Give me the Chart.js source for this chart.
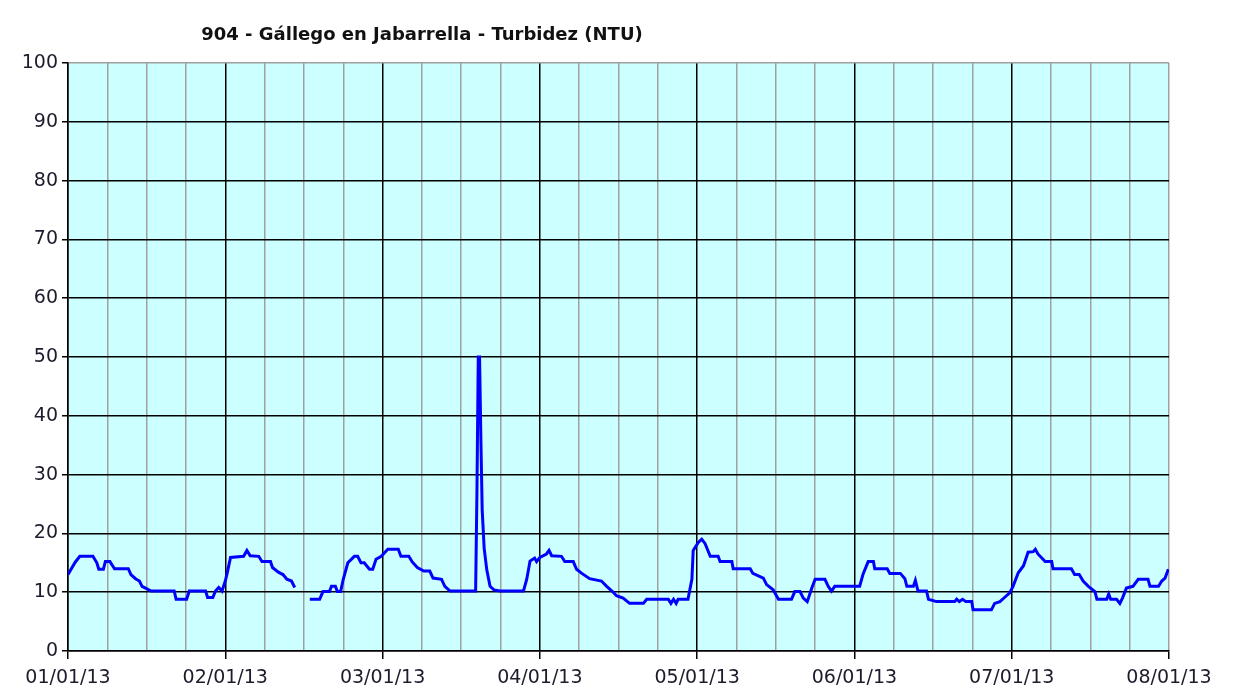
<!DOCTYPE html>
<html>
<head>
<meta charset="utf-8">
<script src="https://cdn.jsdelivr.net/npm/chart.js@4.4.0/dist/chart.umd.min.js"></script>
<style>
  html, body { margin: 0; padding: 0; background: #ffffff; }
  #wrap { width: 1246px; height: 691px; position: relative; }
</style>
</head>
<body>
<div id="wrap"><canvas id="chartTurbidez"></canvas></div>
<script>
const titulo = "904 - Gállego en Jabarrella - Turbidez (NTU)";
const fechas = ["01/01/13", "02/01/13", "03/01/13", "04/01/13", "05/01/13", "06/01/13", "07/01/13", "08/01/13"];

// horas desde 01/01/13 00:00
const horas = [
  0, 1.1, 1.8, 3.8, 4.4, 4.7, 5.4, 5.7, 6.4, 6.8, 7.1, 9.2, 9.6, 10.3, 10.9, 11.3, 12.7,
  16.2, 16.5, 18.1, 18.5, 21, 21.3, 22.1, 22.5, 23, 23.5, 24, 24.3, 24.8, 26.8, 27.3, 27.8,
  29.1, 29.6, 30.9, 31.2, 32.1, 32.8, 33.4, 34.1, 34.6, 35.7,
  36.9, 38.4, 38.9, 39.9, 40.2, 40.8, 41.1, 41.6, 42, 42.7, 43.7, 44.2, 44.7, 45.2, 46, 46.5,
  47, 47.8, 48.8, 50.4, 50.8, 52, 52.5, 53.3, 54.3, 55.2, 55.7, 57, 57.5, 58.3, 62.2,
  62.4, 62.6, 62.8, 63, 63.2, 63.5, 63.9, 64.4, 65, 65.9, 69.5, 70, 70.5, 71.2, 71.5, 72,
  73, 73.4, 73.8, 75.3, 75.8, 77.1, 77.6, 78.4, 79.6, 81.4, 82.2, 83, 83.7, 84.7, 85.7,
  87.8, 88.3, 91.6, 92, 92.4, 92.8, 93.1, 94.6, 95.2, 95.4, 96.2, 96.7, 97.2, 98, 99.2,
  99.5, 101.3, 101.5, 104.1, 104.5, 106.1, 106.6, 107.6, 108.4, 110.4, 110.9, 111.7,
  112.2, 112.8, 113.5, 114, 115.5, 116, 116.5, 117, 120.8, 121.3, 122.1, 122.9, 123.1,
  125, 125.4, 127, 127.7, 128, 129, 129.3, 129.7, 131, 131.3, 132.5, 135.3, 135.6, 136,
  136.5, 137, 137.9, 138.1, 140.9, 141.4, 142.2, 142.9, 143.7, 144.2, 145, 145.8, 146.5,
  147.3, 147.6, 148, 149.1, 150.1, 150.3, 153.1, 153.6, 154.3, 154.9, 155.7, 156.7, 157,
  158.5, 158.8, 159.1, 160, 160.5, 160.9, 161.5, 162.5, 163.3, 164.8, 165.1, 166.4, 166.9,
  167.4, 167.9
];

const turbidez = [
  13, 15.1, 16.1, 16.1, 15, 13.9, 13.9, 15.2, 15.2, 14.5, 14, 14, 13, 12.3, 11.9, 11, 10.2,
  10.2, 8.8, 8.8, 10.2, 10.2, 9.1, 9.1, 10.2, 10.8, 10.2, 11.9, 13.3, 15.9, 16.1, 17.1, 16.2,
  16.1, 15.2, 15.2, 14.2, 13.4, 13, 12.2, 11.9, 10.8, null,
  8.8, 8.8, 10.1, 10.1, 11, 11, 10.1, 10.1, 12.2, 15, 16.1, 16.1, 15, 15, 13.9, 13.9,
  15.6, 16.1, 17.3, 17.3, 16.1, 16.1, 15.2, 14.2, 13.6, 13.6, 12.4, 12.2, 11, 10.2, 10.2,
  27, 50, 50, 36, 24, 17.5, 13.8, 11, 10.4, 10.2, 10.2, 12.2, 15.3, 15.8, 15.2, 15.9,
  16.5, 17.1, 16.2, 16.1, 15.2, 15.2, 13.9, 13.2, 12.3, 11.9, 11, 10.2, 9.4, 9, 8.1,
  8.1, 8.8, 8.8, 8.1, 8.8, 8.1, 8.8, 8.8, 12.2, 17.1, 18.5, 19, 18.3, 16.1, 16.1,
  15.2, 15.2, 14, 14, 13.2, 12.4, 11.3, 10.4, 8.8, 8.8, 10.1, 10.1,
  9, 8.4, 10.7, 12.2, 12.2, 11, 10.2, 11, 11, 13, 15.2, 15.2, 14,
  14, 13.2, 13.2, 12.3, 11, 11, 12, 10.2, 10.2, 8.8, 8.4, 8.4, 8.8, 8.4,
  8.8, 8.4, 8.4, 7, 7, 8.1, 8.4, 9.1, 9.9, 11, 13.3, 14.5, 16.8,
  16.9, 17.3, 16.5, 15.2, 15.2, 14, 14, 13, 13, 11.9, 11, 10.1, 8.8,
  8.8, 9.7, 8.8, 8.8, 8.1, 9, 10.7, 11, 12.2, 12.2, 11, 11, 11.9,
  12.4, 13.9
];

const ticksY = [0, 10, 20, 30, 40, 50, 60, 70, 80, 90, 100];

const canvas = document.getElementById("chartTurbidez");
canvas.width = 1246;
canvas.height = 691;
const context = canvas.getContext("2d");

const fondoGrafico = {
  id: "fondoGrafico",
  beforeDraw(chart) {
    const { ctx, chartArea } = chart;
    ctx.save();
    ctx.fillStyle = "#ccffff";
    ctx.fillRect(chartArea.left, chartArea.top, chartArea.right - chartArea.left, chartArea.bottom - chartArea.top);
    ctx.restore();
  },
  afterDraw(chart) {
    const { ctx, chartArea } = chart;
    ctx.save();
    ctx.font = "bold 18px 'DejaVu Sans'";
    ctx.fillStyle = "#111111";
    ctx.textAlign = "center";
    ctx.textBaseline = "middle";
    ctx.fillText(titulo, chartArea.left + 354, 35);
    ctx.restore();
  }
};

const puntos = horas.map((h, i) => ({ x: h, y: turbidez[i] }));

const chartTurbidez = new Chart(context, {
  type: "line",
  data: {
    datasets: [
      {
        label: "Turbidez (NTU)",
        data: puntos,
        borderColor: "#0000ff",
        borderWidth: 3,
        pointRadius: 0,
        tension: 0,
        spanGaps: false,
      },
    ],
  },
  options: {
    responsive: false,
    animation: false,
    events: [],
    layout: { padding: { top: 63, right: 77, left: 0, bottom: 0 } },
    plugins: {
      legend: { display: false },
      tooltip: { enabled: false },
      title: { display: false },
    },
    scales: {
      x: {
        type: "linear",
        min: 0,
        max: 168,
        afterFit: (s) => { s.height = 40; },
        afterBuildTicks: (s) => {
          s.ticks = [];
          for (let h = 0; h <= 168; h += 6) s.ticks.push({ value: h });
        },
        ticks: {
          autoSkip: false,
          maxRotation: 0,
          padding: 8,
          color: "#1c1c2c",
          font: { family: "DejaVu Sans", size: 19 },
          callback: (v) => (v % 24 === 0 ? fechas[v / 24] : ""),
        },
        grid: {
          color: (c) => (c.tick && c.tick.value % 24 === 0 && c.tick.value !== 168 ? "#000000" : "#a0a0a0"),
          tickColor: (c) => (c.tick && c.tick.value % 24 === 0 ? "#000000" : "rgba(0,0,0,0)"),
          tickLength: 8,
          lineWidth: 1.5,
        },
        border: { display: true, color: "#000000", width: 1.5 },
      },
      y: {
        min: 0,
        max: 100,
        afterFit: (s) => { s.width = 68; },
        afterBuildTicks: (s) => { s.ticks = ticksY.map((v) => ({ value: v })); },
        ticks: {
          padding: 4,
          color: "#1c1c2c",
          font: { family: "DejaVu Sans", size: 19 },
        },
        grid: {
          color: (c) => (c.tick && c.tick.value === 100 ? "#a0a0a0" : "#000000"),
          tickColor: "#000000",
          tickLength: 6,
          lineWidth: 1.5,
        },
        border: { display: true, color: "#000000", width: 1.5 },
      },
    },
  },
  plugins: [fondoGrafico],
});
</script>
</body>
</html>
